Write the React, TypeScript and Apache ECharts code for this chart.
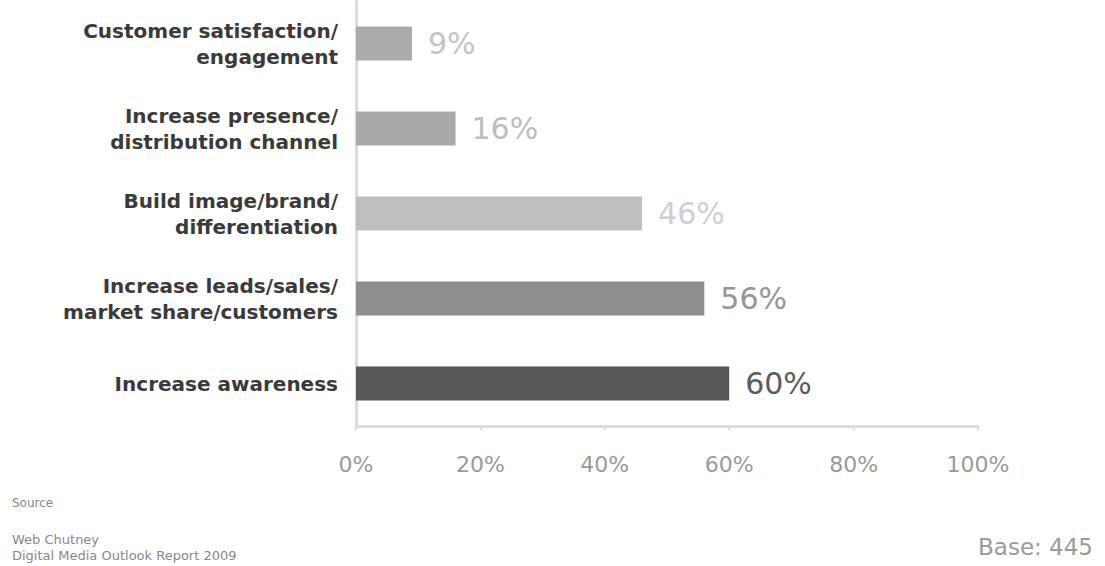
import React, { useEffect, useRef } from "react";
import * as echarts from "echarts";

const categories = [
  "Customer satisfaction/\nengagement",
  "Increase presence/\ndistribution channel",
  "Build image/brand/\ndifferentiation",
  "Increase leads/sales/\nmarket share/customers",
  "Increase awareness",
];
const values = [9, 16, 46, 56, 60];
const barColors = ["#ababab", "#a9a9a9", "#bfbfbf", "#8e8e8e", "#575757"];
const labelColors = ["#c4c4c4", "#bdbdbd", "#cfcfcf", "#969696", "#5c5c5c"];
const xTicks = [0, 20, 40, 60, 80, 100];

export default function App() {
  const ref = useRef<HTMLDivElement>(null);
  useEffect(() => {
    if (!ref.current) return;
    const chart = echarts.init(ref.current, null, { renderer: "svg" });
    chart.setOption({
      animation: false,
      backgroundColor: "#ffffff",
      grid: { left: 356, right: 127, top: 1, bottom: 140, containLabel: false },
      xAxis: {
        type: "value",
        min: xTicks[0],
        max: xTicks[xTicks.length - 1],
        interval: 20,
        axisLine: { show: true, lineStyle: { color: "#dcdcdc", width: 3 } },
        axisTick: { show: true, length: 4, lineStyle: { color: "#dcdcdc", width: 2 } },
        splitLine: { show: false },
        axisLabel: {
          formatter: (v: number) => v + "%",
          color: "#9a9a9a",
          fontSize: 22,
          fontFamily: "DejaVu Sans",
          margin: 27,
        },
      },
      yAxis: {
        type: "category",
        data: categories,
        inverse: true,
        axisLine: { show: true, lineStyle: { color: "#dcdcdc", width: 3 } },
        axisTick: { show: false },
        axisLabel: {
          color: "#3a3a3a",
          fontSize: 20,
          fontWeight: "bold",
          fontFamily: "DejaVu Sans",
          margin: 18,
          align: "right",
          lineHeight: 26,
        },
      },
      series: [
        {
          type: "bar",
          data: values.map((v, i) => ({
            value: v,
            itemStyle: { color: barColors[i] },
            label: { color: labelColors[i] },
          })),
          barWidth: 34,
          label: {
            show: true,
            position: "right",
            distance: 16,
            formatter: "{c}%",
            fontSize: 30,
            fontFamily: "DejaVu Sans",
          },
        },
      ],
      graphic: [
        {
          type: "text",
          left: 12,
          top: 497,
          style: { text: "Source", fontSize: 12, fill: "#888", fontFamily: "DejaVu Sans" },
        },
        {
          type: "text",
          left: 12,
          top: 531,
          style: {
            text: "Web Chutney\nDigital Media Outlook Report 2009",
            fontSize: 13,
            lineHeight: 16,
            fill: "#888",
            fontFamily: "DejaVu Sans",
          },
        },
        {
          type: "text",
          right: 12,
          top: 535,
          style: { text: "Base: 445", fontSize: 23, fill: "#9a9a9a", fontFamily: "DejaVu Sans" },
        },
      ],
    });
    return () => chart.dispose();
  }, []);
  return (
    <div
      ref={ref}
      style={{ position: "fixed", left: 0, top: 0, width: 1105, height: 566 }}
    />
  );
}
